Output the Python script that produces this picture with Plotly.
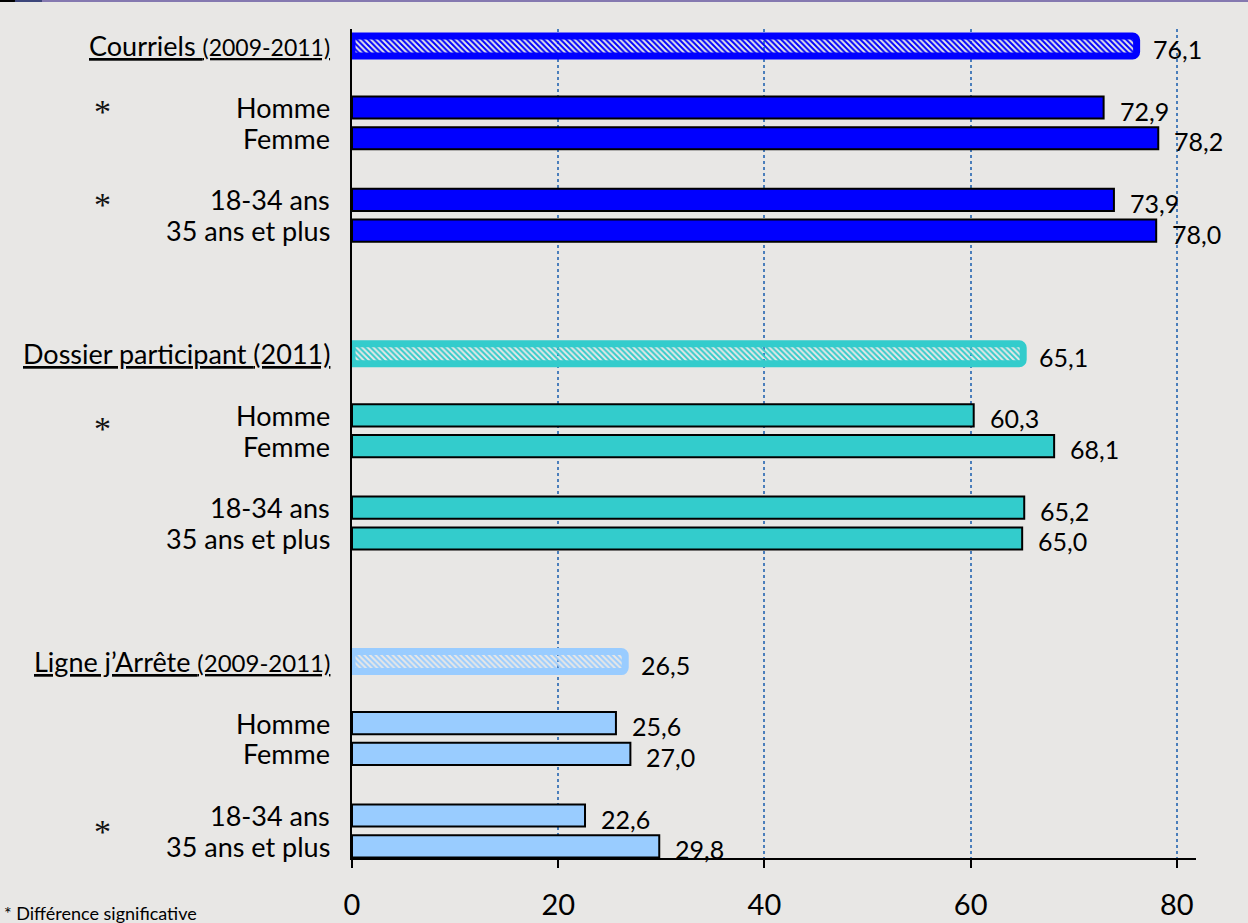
import plotly.graph_objects as go

# ---------------- data ----------------
groups = ["Courriels", "Dossier participant", "Ligne j\u2019Arrête"]
periods = ["(2009-2011)", "(2011)", "(2009-2011)"]
overall = [76.1, 65.1, 26.5]
sub_labels = ["Homme", "Femme", "18-34 ans", "35 ans et plus"]
courriels_sub = [72.9, 78.2, 73.9, 78.0]
dossier_sub = [60.3, 68.1, 65.2, 65.0]
ligne_sub = [25.6, 27.0, 22.6, 29.8]
# significance: (sex difference, age difference)
significant = [(True, True), (True, False), (False, True)]
x_ticks = [0, 20, 40, 60, 80]
footnote = "* Différence significative"

# ---------------- style ----------------
colors = ["#0000FF", "#33CCCC", "#99CCFF"]
name_sizes = [27, 27, 27]
period_sizes = [23, 27, 24]
asterisk_shift = [-0.29, 0.0, 0.1]   # vertical nudge of the "*" marks, in rows
FONT = "Lato"
BG = "#E8E7E5"

subs = [courriels_sub, dossier_sub, ligne_sub]
row_offsets = [2, 3, 5, 6]      # row position of each sub category inside a group
group_step = 10

def fmt(v):
    return f"{v:.1f}".replace(".", ",")

fig = go.Figure()

head_y, head_x = [], []
sub_y, sub_x, sub_c = [], [], []
annotations = []
for g, name in enumerate(groups):
    base = g * group_step
    head_y.append(base)
    head_x.append(overall[g])
    for k, lab in enumerate(sub_labels):
        sub_y.append(base + row_offsets[k])
        sub_x.append(subs[g][k])
        sub_c.append(colors[g])

fig.add_trace(go.Bar(
    orientation="h", y=head_y, x=head_x, width=0.65,
    marker=dict(
        color=colors,
        line=dict(color=colors, width=7),
        pattern=dict(shape="\\", size=4, solidity=0.5, fgcolor=colors,
                     bgcolor="white", fillmode="replace"),
        cornerradius=4,
    ),
    hoverinfo="skip", showlegend=False,
))
fig.add_trace(go.Bar(
    orientation="h", y=sub_y, x=sub_x, width=0.72,
    marker=dict(color=sub_c, line=dict(color="#000000", width=2)),
    hoverinfo="skip", showlegend=False,
))

# value labels
for yy, xx in list(zip(head_y, head_x)) + list(zip(sub_y, sub_x)):
    annotations.append(dict(
        x=xx, y=yy, xref="x", yref="y", text=fmt(xx), showarrow=False,
        xanchor="left", yanchor="middle", xshift=14, yshift=-3,
        font=dict(family=FONT, size=25, color="#000000")))

# category labels
for g, name in enumerate(groups):
    base = g * group_step
    txt = (f"<u>{name} <span style='font-size:{period_sizes[g]}px'>"
           f"{periods[g]}</span></u>")
    annotations.append(dict(
        x=0, y=base, xref="paper", yref="y", text=txt, showarrow=False,
        xanchor="right", yanchor="middle", xshift=-20,
        font=dict(family=FONT, size=name_sizes[g], color="#000000")))
    for k, lab in enumerate(sub_labels):
        annotations.append(dict(
            x=0, y=base + row_offsets[k], xref="paper", yref="y", text=lab,
            showarrow=False, xanchor="right", yanchor="middle", xshift=-20,
            font=dict(family=FONT, size=27, color="#000000")))
    # asterisks
    for p, sig in enumerate(significant[g]):
        if sig:
            ymid = base + (row_offsets[2 * p] + row_offsets[2 * p + 1]) / 2
            annotations.append(dict(
                x=0, y=ymid + asterisk_shift[g], xref="paper", yref="y",
                text="*", showarrow=False, xanchor="center", yanchor="middle",
                xshift=-250, yshift=2,
                font=dict(family="Liberation Serif", size=34, color="#111111")))

annotations.append(dict(
    x=0, y=0, xref="paper", yref="paper", text=footnote, showarrow=False,
    xanchor="left", yanchor="top", xshift=-350, yshift=-42,
    font=dict(family=FONT, size=18, color="#000000")))

# decorative top strip
shapes = [
    dict(type="rect", xref="paper", yref="paper", x0=-0.418, x1=-0.3993,
         y0=1.0326, y1=1.04, fillcolor="#000000", line_width=0),
    dict(type="rect", xref="paper", yref="paper", x0=-0.3993, x1=-0.3673,
         y0=1.0326, y1=1.04, fillcolor="#3C467A", line_width=0),
    dict(type="rect", xref="paper", yref="paper", x0=-0.3673, x1=1.07,
         y0=1.0326, y1=1.04, fillcolor="#8579B0", line_width=0),
]

fig.update_layout(
    width=1248, height=923,
    margin=dict(l=352, r=52, t=29, b=65, autoexpand=False),
    paper_bgcolor=BG, plot_bgcolor=BG,
    barmode="overlay",
    annotations=annotations, shapes=shapes,
    font=dict(family=FONT, color="#000000"),
    xaxis=dict(
        range=[0, 81.86], tickvals=x_ticks, ticktext=[str(t) for t in x_ticks],
        showgrid=True, gridcolor="#4A7EBB", griddash="dot", gridwidth=1.5,
        zeroline=False, showline=True, linecolor="#000000", linewidth=2,
        ticks="outside", ticklen=8, tickwidth=2, tickcolor="#000000",
        ticklabelstandoff=12, automargin=False,
        tickfont=dict(family=FONT, size=29, color="#000000"),
    ),
    yaxis=dict(
        range=[26.38, -0.55], showgrid=False, zeroline=False,
        showticklabels=False, ticks="", automargin=False,
        showline=True, linecolor="#000000", linewidth=2,
    ),
)

fig.write_html("out.html")
